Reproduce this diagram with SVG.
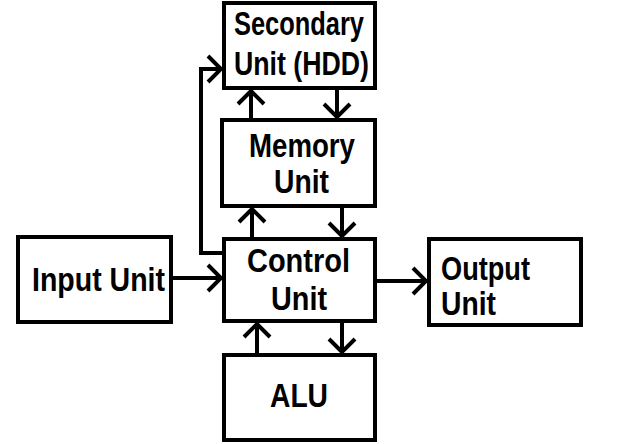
<svg xmlns="http://www.w3.org/2000/svg" width="630" height="444" viewBox="0 0 630 444">
<style>
.box{fill:#fff;stroke:#000;stroke-width:4}
.lbl{font-family:"Liberation Sans",Arial,sans-serif;font-weight:bold;font-size:33px;fill:#000}
.con{fill:none;stroke:#000;stroke-width:4;marker-end:url(#ah)}
</style>
<defs>
<marker id="ah" markerUnits="userSpaceOnUse" viewBox="-16 -15 18 30" refX="0" refY="0" markerWidth="18" markerHeight="30" orient="auto">
<path d="M-13,-13 L0,0 L-13,13" fill="none" stroke="#000" stroke-width="4"/>
</marker>
</defs>
<rect width="630" height="444" fill="#fff"/>
<g id="connectors">
<path class="con" d="M251,120 L251,91"/>
<path class="con" d="M337,90 L337,117"/>
<path class="con" d="M252,239 L252,209"/>
<path class="con" d="M342,208 L342,236"/>
<path class="con" d="M257,355 L257,324"/>
<path class="con" d="M342,323 L342,352"/>
<path class="con" d="M173,278 L221,278"/>
<path class="con" d="M377,281 L426,281"/>
<path class="con" d="M224,253 L201,253 L201,69 L221,69"/>
</g>
<g id="secondary">
<rect class="box" x="224" y="3" width="151" height="85"/>
<text class="lbl" x="234" y="35" textLength="130" lengthAdjust="spacingAndGlyphs">Secondary</text>
<text class="lbl" x="234" y="75" textLength="135" lengthAdjust="spacingAndGlyphs">Unit (HDD)</text>
</g>
<g id="memory">
<rect class="box" x="222" y="120" width="153" height="86"/>
<text class="lbl" x="249" y="157" textLength="106" lengthAdjust="spacingAndGlyphs">Memory</text>
<text class="lbl" x="274" y="193" textLength="55" lengthAdjust="spacingAndGlyphs">Unit</text>
</g>
<g id="control">
<rect class="box" x="224" y="239" width="151" height="82"/>
<text class="lbl" x="247" y="272" textLength="103" lengthAdjust="spacingAndGlyphs">Control</text>
<text class="lbl" x="271" y="310" textLength="56" lengthAdjust="spacingAndGlyphs">Unit</text>
</g>
<g id="alu">
<rect class="box" x="224" y="355" width="151" height="85"/>
<text class="lbl" x="270" y="407" textLength="58" lengthAdjust="spacingAndGlyphs">ALU</text>
</g>
<g id="input">
<rect class="box" x="18" y="237" width="153" height="85"/>
<text class="lbl" x="32" y="291" textLength="133" lengthAdjust="spacingAndGlyphs">Input Unit</text>
</g>
<g id="output">
<rect class="box" x="429" y="239" width="152" height="86"/>
<text class="lbl" x="441" y="280" textLength="89" lengthAdjust="spacingAndGlyphs">Output</text>
<text class="lbl" x="441" y="315" textLength="55" lengthAdjust="spacingAndGlyphs">Unit</text>
</g>
</svg>
